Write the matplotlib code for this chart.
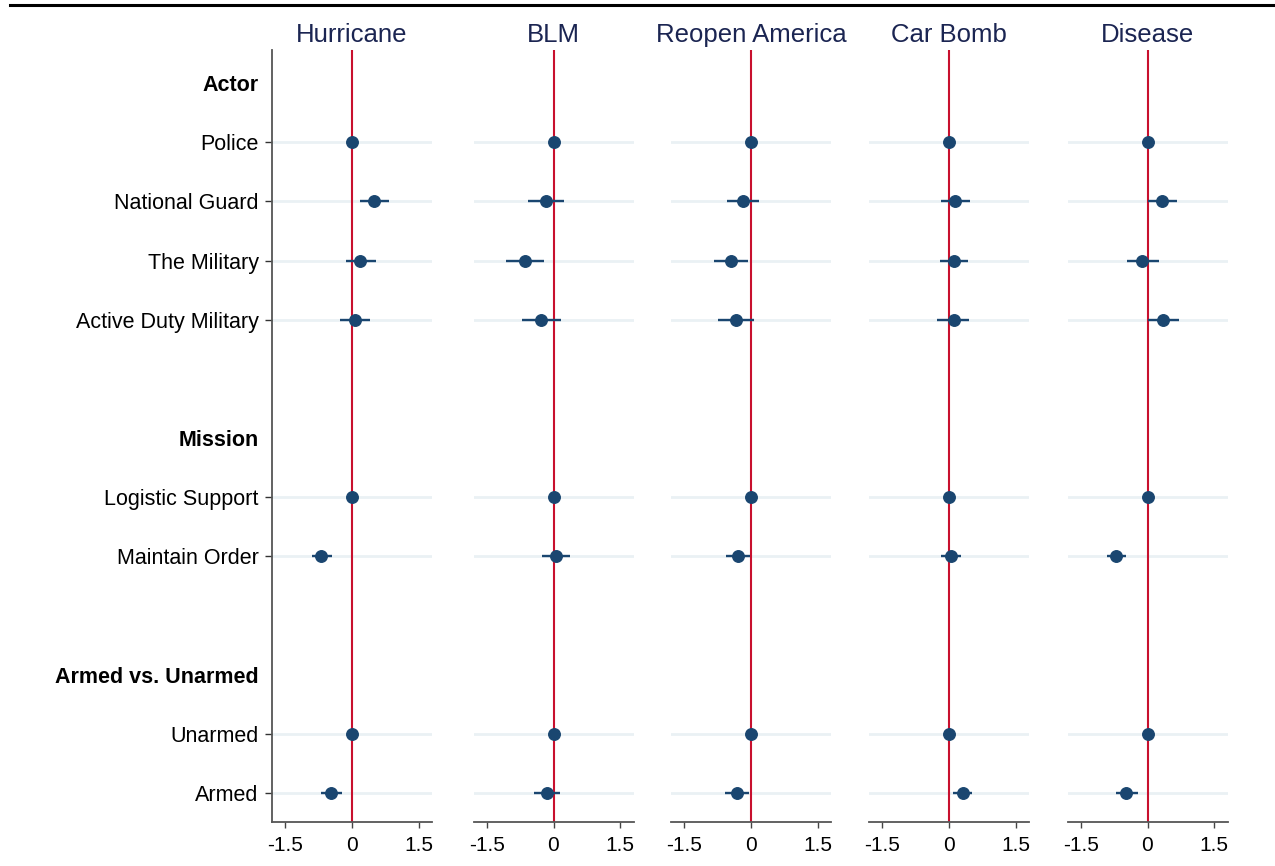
import matplotlib.pyplot as plt
from matplotlib.lines import Line2D

plt.rcParams['font.family'] = ['Liberation Sans', 'DejaVu Sans']

# Panels and rows
panels = ['Hurricane', 'BLM', 'Reopen America', 'Car Bomb', 'Disease']
row_labels = ['Actor', 'Police', 'National Guard', 'The Military', 'Active Duty Military', '',
              'Mission', 'Logistic Support', 'Maintain Order', '',
              'Armed vs. Unarmed', 'Unarmed', 'Armed']
headers = ['Actor', 'Mission', 'Armed vs. Unarmed']
terms = ['Police', 'National Guard', 'The Military', 'Active Duty Military',
         'Logistic Support', 'Maintain Order', 'Unarmed', 'Armed']

# Estimates and 95% CIs, one list per panel (order follows terms)
hurricane_est = [0, 0.50, 0.19, 0.06, 0, -0.69, 0, -0.47]
hurricane_lo = [0, 0.19, -0.14, -0.28, 0, -0.91, 0, -0.69]
hurricane_hi = [0, 0.83, 0.53, 0.40, 0, -0.45, 0, -0.23]

blm_est = [0, -0.18, -0.64, -0.28, 0, 0.06, 0, -0.14]
blm_lo = [0, -0.58, -1.08, -0.72, 0, -0.25, 0, -0.45]
blm_hi = [0, 0.23, -0.21, 0.16, 0, 0.37, 0, 0.15]

reopen_est = [0, -0.18, -0.46, -0.34, 0, -0.29, 0, -0.32]
reopen_lo = [0, -0.53, -0.84, -0.75, 0, -0.56, 0, -0.58]
reopen_hi = [0, 0.18, -0.07, 0.07, 0, -0.03, 0, -0.05]

carbomb_est = [0, 0.14, 0.11, 0.11, 0, 0.05, 0, 0.32]
carbomb_lo = [0, -0.19, -0.20, -0.26, 0, -0.18, 0, 0.09]
carbomb_hi = [0, 0.47, 0.43, 0.45, 0, 0.28, 0, 0.52]

disease_est = [0, 0.32, -0.12, 0.35, 0, -0.70, 0, -0.48]
disease_lo = [0, 0.01, -0.47, 0.01, 0, -0.91, 0, -0.72]
disease_hi = [0, 0.67, 0.25, 0.71, 0, -0.48, 0, -0.22]

series = [
    (hurricane_est, hurricane_lo, hurricane_hi),
    (blm_est, blm_lo, blm_hi),
    (reopen_est, reopen_lo, reopen_hi),
    (carbomb_est, carbomb_lo, carbomb_hi),
    (disease_est, disease_lo, disease_hi),
]

W, H = 1275, 866
fig = plt.figure(figsize=(W / 100, H / 100), dpi=100)

term_y = [row_labels.index(t) for t in terms]
all_y = list(range(len(row_labels)))
lefts = [272, 473.5, 671, 869, 1067.5]
dot_color = '#1a4670'

for i, (title, (est, lo, hi)) in enumerate(zip(panels, series)):
    ax = fig.add_axes([lefts[i] / W, 44 / H, 160 / W, 772 / H])
    for y in term_y:
        ax.axhline(y, color='#eaf1f4', lw=2, zorder=1)
    ax.axvline(0, color='#c8102e', lw=1.5, zorder=2)
    xerr = [[e - l for e, l in zip(est, lo)], [h - e for e, h in zip(est, hi)]]
    ax.errorbar(est, term_y, xerr=xerr, fmt='o', color=dot_color, ms=8.3,
                elinewidth=1.7, capsize=0, zorder=3)

    ax.set_xlim(-1.8, 1.8)
    ax.set_ylim(12.49, -0.56)
    ax.set_xticks([-1.5, 0, 1.5])
    ax.set_xticklabels(['-1.5', '0', '1.5'])
    ax.tick_params(axis='x', labelsize=15, length=4, width=1, color='#444', pad=6)
    ax.set_title(title, fontsize=18.5, color='#1b2552', pad=6)

    for side in ['top', 'right']:
        ax.spines[side].set_visible(False)
    ax.spines['bottom'].set_color('#555555')
    ax.spines['bottom'].set_linewidth(1.3)

    if i == 0:
        ax.spines['left'].set_color('#555555')
        ax.spines['left'].set_linewidth(1.3)
        ax.set_yticks(all_y)
        ax.set_yticklabels(row_labels)
        ax.tick_params(axis='y', labelsize=15.5, length=5, width=1, color='#333', pad=4.5)
        for tick, lab in zip(ax.yaxis.get_major_ticks(), row_labels):
            if lab in headers:
                tick.label1.set_fontweight('bold')
            if lab in headers or lab == '':
                tick.tick1line.set_visible(False)
    else:
        ax.spines['left'].set_visible(False)
        ax.set_yticks([])

# Rule across the top
fig.add_artist(Line2D([10 / W, 1], [861 / H, 861 / H], transform=fig.transFigure,
                      color='black', lw=2.2))

fig.savefig('out.png', dpi=100, facecolor='white')
